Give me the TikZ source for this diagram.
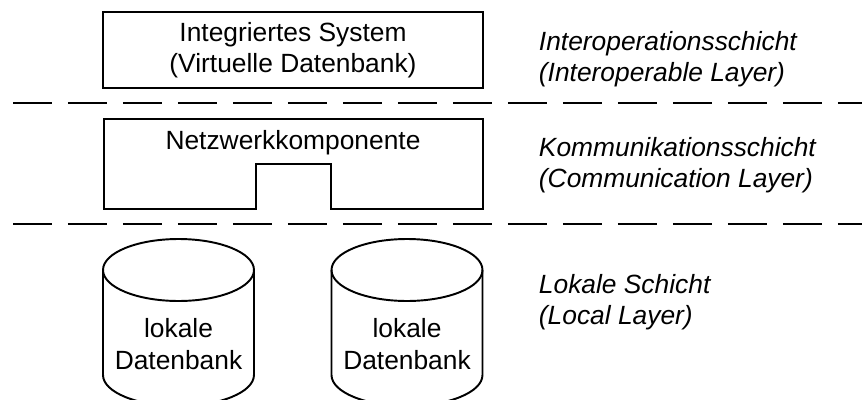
\documentclass[tikz,border=0pt]{standalone}
\usepackage{fontspec}
\setmainfont{Liberation Sans}
\newcommand{\lyrfont}{\fontsize{15}{18}\selectfont}

\begin{document}
\begin{tikzpicture}[x=0.02cm, y=-0.02cm, line width=1.1pt,
    every node/.style={font=\lyrfont, inner sep=0pt},
    box/.style={draw, minimum width=7.6cm, minimum height=1.52cm, align=center},
    lbl/.style={anchor=west, align=left, font=\lyrfont\itshape},
    sepline/.style={dash pattern=on 0.78cm off 0.32cm},
    dbtext/.style={align=center}]
    \useasboundingbox (0,0) rectangle (862,399);

    % Boxes on the left
    \node[box] (integ) at (293,50) {Integriertes System\\(Virtuelle Datenbank)};
    \node (netz) at (293,143) {Netzwerkkomponente};
    \draw (104,119) -- (483,119) -- (483,209) -- (331,209) -- (331,164)
        -- (256,164) -- (256,209) -- (104,209) -- cycle;

    % Local databases
    \foreach \cx in {178.5, 407} {
        \draw (\cx,270) ellipse [x radius=1.51cm, y radius=0.62cm];
        \draw (\cx-75.5,270) -- (\cx-75.5,375)
            arc [start angle=180, end angle=360, x radius=1.51cm, y radius=0.62cm]
            -- (\cx+75.5,270);
    }
    \node[dbtext] (ldb1) at (178.5,344) {lokale\\Datenbank};
    \node[dbtext] (ldb2) at (407,344) {lokale\\Datenbank};

    % Layer separators
    \draw[sepline] (13,103) -- (862,103);
    \draw[sepline] (13,224) -- (862,224);

    % Layer names
    \node[lbl] (interop) at (538,59) {Interoperationsschicht\\(Interoperable Layer)};
    \node[lbl] (komm) at (538,165) {Kommunikationsschicht\\(Communication Layer)};
    \node[lbl] (lokal) at (538,302) {Lokale Schicht\\(Local Layer)};
\end{tikzpicture}
\end{document}
